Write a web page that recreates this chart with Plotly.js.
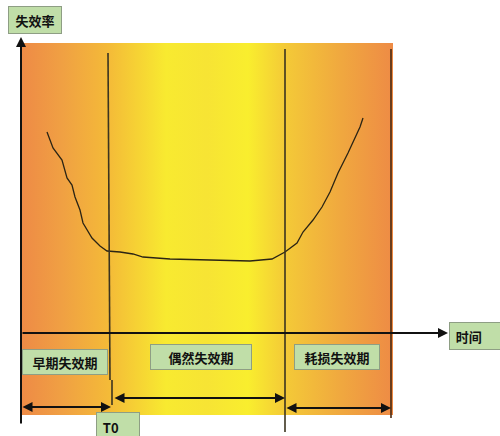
<!DOCTYPE html>
<html>
<head>
<meta charset="utf-8">
<script src="https://cdn.plot.ly/plotly-3.0.1.min.js"></script>
<style>
  html, body { margin: 0; padding: 0; background: #ffffff; }
  #chart { width: 500px; height: 436px; }
</style>
</head>
<body>
<div id="chart"></div>
<script>
// Bathtub curve: failure rate over the product lifetime.
const phaseNames = ['早期失效期', '偶然失效期', '耗损失效期'];
const phaseBounds = [0, 87, 264, 370];          // start, T0, wear-out onset, end
const curveTime = [26, 32, 41, 46, 51, 54, 59, 62, 71, 79, 86, 99, 112, 122, 149,
                   190, 229, 251, 264, 276, 282, 292, 301, 309, 317, 327, 332, 339, 342];
const curveRate = [201, 185, 173, 155, 148, 136, 123, 110, 95, 87, 82, 81, 79, 76, 74,
                   73, 72, 74, 81, 90, 101, 113, 126, 141, 160, 180, 191, 206, 215];
const axisLabels = { rate: '失效率', time: '时间', t0: 'T0' };

const FONT = '"Noto Sans CJK SC", "Noto Sans", sans-serif';
const INK = '#2b2414';
const EDGE = '#3b3420';
const BOX_FILL = '#C0DEA8';
const BOX_LINE = '#8E9E84';

const tMin = phaseBounds[0], tMax = phaseBounds[3] + 2;
const rTop = 290, rBottom = -82;

// shaded lifetime band, orange at both ends and yellow in the middle
const band = {
  type: 'scatter', mode: 'lines',
  x: [tMin, tMax, tMax, tMin, tMin],
  y: [rBottom, rBottom, rTop, rTop, rBottom],
  fill: 'toself',
  fillgradient: {
    type: 'horizontal',
    colorscale: [
      [0.00, '#EE8A46'], [0.11, '#F0A043'], [0.234, '#F4BA38'],
      [0.39, '#F8EA30'], [0.50, '#F7E434'], [0.61, '#F9EE2E'],
      [0.71, '#F4CA37'], [0.86, '#F0A83F'], [1.00, '#EE8B45']
    ]
  },
  line: { width: 0 }, hoverinfo: 'skip'
};

const curve = {
  type: 'scatter', mode: 'lines',
  x: curveTime, y: curveRate,
  line: { color: INK, width: 1.3 }, hoverinfo: 'skip'
};

const vline = (t0, t1, y0, y1, color) => ({
  type: 'line', xref: 'x', yref: 'y', x0: t0, x1: t1, y0: y0, y1: y1,
  line: { color: color, width: 1.6 }
});

const shapes = [
  vline(phaseBounds[1], phaseBounds[1] + 2, 280, -47, EDGE),
  vline(phaseBounds[1] + 4, phaseBounds[1] + 4, -47, -72, EDGE),
  vline(phaseBounds[2], phaseBounds[2], 284, -99, EDGE),
  vline(phaseBounds[3], phaseBounds[3], 284, -85, '#4a2a12')
];

const arrow = (x0, x1, y, both, w) => ({
  x: x1, y: y, ax: x0, ay: y, xref: 'x', yref: 'y', axref: 'x', ayref: 'y',
  text: '', showarrow: true, arrowhead: 2, startarrowhead: 2,
  arrowside: both ? 'end+start' : 'end', arrowsize: 1, startarrowsize: 1,
  arrowwidth: w, arrowcolor: '#111111', standoff: 0, startstandoff: 0
});

const box = (text, x, y, w, h, anchor, align) => ({
  x: x, y: y, xref: 'x', yref: 'y', xanchor: anchor || 'center', yanchor: 'middle',
  text: '<b>' + text + '</b>', showarrow: false,
  width: w, height: h, align: align || 'center', valign: 'middle',
  bgcolor: BOX_FILL, bordercolor: BOX_LINE, borderwidth: 1, borderpad: 0,
  font: { family: FONT, size: 13, color: '#111111' }
});

const annotations = [
  // axes
  arrow(0, 0, 0, false, 2),
  Object.assign(arrow(0, 0, 0, false, 2), { x: 0, y: 296, ax: 0, ay: -92 }),
  Object.assign(arrow(0, 427, 0, false, 2), { x: 427, y: 0, ax: 0, ay: 0 }),
  // phase spans
  arrow(phaseBounds[0], phaseBounds[1] + 3, -74, true, 2),
  arrow(phaseBounds[1] + 5, phaseBounds[2], -65, true, 2),
  arrow(phaseBounds[2], phaseBounds[3], -75, true, 2),
  // labels
  box(axisLabels.rate, 14, 313.5, 52, 26),
  box(axisLabels.time, 428, -3, 58, 26, 'left', 'left'),
  box(phaseNames[0], 43.5, -28.5, 84, 24),
  box(phaseNames[1], 179.5, -23.5, 100, 24),
  box(phaseNames[2], 315.5, -23.5, 84, 24),
  box(axisLabels.t0, 75, -95, 42, 28, 'left', 'left')
];
annotations[0].visible = false;
// pad the left-aligned labels a little inside their boxes
annotations[7].text = '&nbsp;&nbsp;<b>' + axisLabels.time + '</b>';
annotations[11].text = '&nbsp;&nbsp;<b>' + axisLabels.t0 + '</b>';
annotations[11].yanchor = 'top';
annotations[11].y = -79;

const layout = {
  width: 500, height: 436,
  margin: { l: 0, r: 0, t: 0, b: 0 },
  paper_bgcolor: '#ffffff', plot_bgcolor: '#ffffff',
  showlegend: false,
  xaxis: { range: [-21, 479], visible: false, fixedrange: true },
  yaxis: { range: [-103, 333], visible: false, fixedrange: true },
  shapes: shapes,
  annotations: annotations
};

Plotly.newPlot('chart', [band, curve], layout, { displayModeBar: false, staticPlot: true });
</script>
</body>
</html>
